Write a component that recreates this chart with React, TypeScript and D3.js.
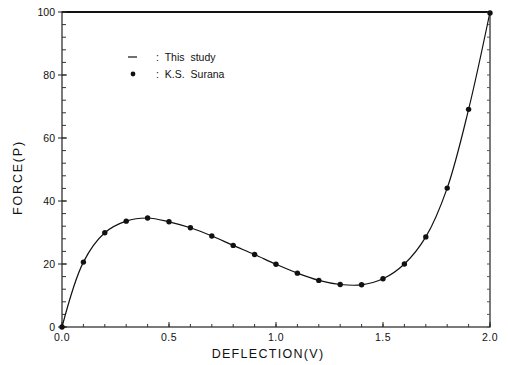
import { useEffect, useRef } from "react";
import * as d3 from "d3";

const deflection = [0, 0.1, 0.2, 0.3, 0.4, 0.5, 0.6, 0.7, 0.8, 0.9, 1.0, 1.1, 1.2, 1.3, 1.4, 1.5, 1.6, 1.7, 1.8, 1.9, 2.0];
const thisStudy = [0, 20.6, 29.9, 33.6, 34.6, 33.4, 31.5, 28.9, 25.9, 23.0, 19.9, 17.1, 14.8, 13.5, 13.4, 15.3, 20.0, 28.6, 44.1, 69.1, 100];
const surana = [0, 20.6, 29.9, 33.6, 34.6, 33.4, 31.5, 28.9, 25.9, 23.0, 19.9, 17.1, 14.8, 13.5, 13.4, 15.3, 20.0, 28.6, 44.1, 69.1, 99.7];
const xTicks = [0, 0.5, 1.0, 1.5, 2.0];
const yTicks = [0, 20, 40, 60, 80, 100];

export default function App() {
  const ref = useRef<SVGSVGElement>(null);

  useEffect(() => {
    if (!ref.current) return;
    const svg = d3.select(ref.current);
    svg.selectAll("*").remove();

    const width = 508;
    const height = 365;
    const margin = { top: 12, right: 18, bottom: 38, left: 62 };
    const innerWidth = width - margin.left - margin.right;
    const innerHeight = height - margin.top - margin.bottom;
    const font = "Liberation Sans, Arial, sans-serif";

    const g = svg.append("g").attr("transform", `translate(${margin.left},${margin.top})`);

    const x = d3.scaleLinear().domain([0, 2]).range([0, innerWidth]);
    const y = d3.scaleLinear().domain([0, 100]).range([innerHeight, 0]);

    // frame
    g.append("rect")
      .attr("width", innerWidth)
      .attr("height", innerHeight)
      .attr("fill", "none")
      .attr("stroke", "#222")
      .attr("stroke-width", 1.2);
    g.append("line")
      .attr("x1", 0)
      .attr("x2", innerWidth)
      .attr("y1", 0)
      .attr("y2", 0)
      .attr("stroke", "#111")
      .attr("stroke-width", 1.8);

    // minor ticks
    const xMinor = d3.range(0, 21).map((i) => i / 10);
    g.selectAll("line.xminor")
      .data(xMinor)
      .join("line")
      .attr("x1", (d) => x(d))
      .attr("x2", (d) => x(d))
      .attr("y1", innerHeight)
      .attr("y2", innerHeight - 3)
      .attr("stroke", "#333");

    const yMinor = d3.range(0, 26).map((i) => i * 4);
    g.selectAll("line.yminorL")
      .data(yMinor)
      .join("line")
      .attr("x1", 0)
      .attr("x2", 4)
      .attr("y1", (d) => y(d))
      .attr("y2", (d) => y(d))
      .attr("stroke", "#333");
    g.selectAll("line.yminorR")
      .data(yMinor)
      .join("line")
      .attr("x1", innerWidth)
      .attr("x2", innerWidth - 3)
      .attr("y1", (d) => y(d))
      .attr("y2", (d) => y(d))
      .attr("stroke", "#555");

    // major ticks + labels
    g.selectAll("line.ymajor")
      .data(yTicks)
      .join("line")
      .attr("x1", -4)
      .attr("x2", 5)
      .attr("y1", (d) => y(d))
      .attr("y2", (d) => y(d))
      .attr("stroke", "#222");
    g.selectAll("text.ylab")
      .data(yTicks)
      .join("text")
      .attr("x", -7)
      .attr("y", (d) => y(d))
      .attr("dy", "0.35em")
      .attr("text-anchor", "end")
      .style("font-family", font)
      .style("font-size", "10.5px")
      .style("fill", "#111")
      .text((d) => d);

    g.selectAll("line.xmajor")
      .data(xTicks)
      .join("line")
      .attr("x1", (d) => x(d))
      .attr("x2", (d) => x(d))
      .attr("y1", innerHeight)
      .attr("y2", innerHeight - 5)
      .attr("stroke", "#222");
    g.selectAll("text.xlab")
      .data(xTicks)
      .join("text")
      .attr("x", (d) => x(d))
      .attr("y", innerHeight + 14)
      .attr("text-anchor", "middle")
      .style("font-family", font)
      .style("font-size", "10.5px")
      .style("letter-spacing", "0.5px")
      .style("fill", "#111")
      .text((d) => d.toFixed(1));

    // axis titles
    g.append("text")
      .attr("x", innerWidth / 2 - 8)
      .attr("y", innerHeight + 31)
      .attr("text-anchor", "middle")
      .style("font-family", font)
      .style("font-size", "12.5px")
      .style("letter-spacing", "1.3px")
      .style("fill", "#111")
      .text("DEFLECTION(V)");

    g.append("text")
      .attr("transform", `translate(${-40},${innerHeight / 2 + 8}) rotate(-90)`)
      .attr("text-anchor", "middle")
      .style("font-family", font)
      .style("font-size", "12.5px")
      .style("letter-spacing", "1.8px")
      .style("fill", "#111")
      .text("FORCE(P)");

    // curve
    const line = d3
      .line<number>()
      .x((_, i) => x(deflection[i]))
      .y((d) => y(d))
      .curve(d3.curveCatmullRom.alpha(0.5));

    g.append("path")
      .datum(thisStudy)
      .attr("d", line)
      .attr("fill", "none")
      .attr("stroke", "#111")
      .attr("stroke-width", 1.2);

    g.selectAll("circle.pt")
      .data(surana)
      .join("circle")
      .attr("cx", (_, i) => x(deflection[i]))
      .attr("cy", (d) => y(d))
      .attr("r", 2.7)
      .attr("fill", "#111");

    // legend
    const lg = g.append("g").attr("transform", `translate(64,45)`);
    lg.append("line").attr("x1", 2).attr("x2", 11).attr("y1", 0).attr("y2", 0).attr("stroke", "#111").attr("stroke-width", 1.2);
    lg.append("text")
      .attr("x", 30)
      .attr("y", 0)
      .attr("dy", "0.35em")
      .style("font-family", font)
      .style("font-size", "10.5px")
      .style("fill", "#111")
      .style("word-spacing", "3px")
      .text(": This study");
    lg.append("circle").attr("cx", 7).attr("cy", 17).attr("r", 2.4).attr("fill", "#111");
    lg.append("text")
      .attr("x", 30)
      .attr("y", 17)
      .attr("dy", "0.35em")
      .style("font-family", font)
      .style("font-size", "10.5px")
      .style("fill", "#111")
      .style("word-spacing", "3px")
      .text(": K.S. Surana");
  }, []);

  return <svg ref={ref} width={508} height={365} style={{ position: "absolute", left: 0, top: 0, background: "#fff" }} />;
}
